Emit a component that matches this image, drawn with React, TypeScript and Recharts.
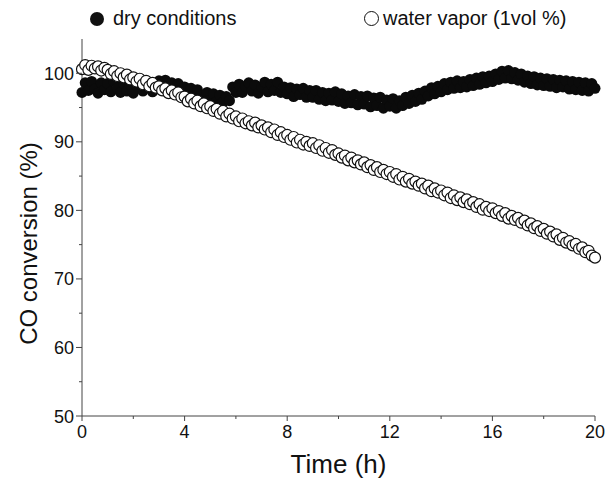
import { ScatterChart, Scatter, XAxis, YAxis } from "recharts";

const TIMES = [
  0, 0.125, 0.25, 0.375, 0.5, 0.625, 0.75, 0.875,
  1, 1.125, 1.25, 1.375, 1.5, 1.625, 1.75, 1.875,
  2, 2.125, 2.25, 2.375, 2.5, 2.625, 2.75, 2.875,
  3, 3.125, 3.25, 3.375, 3.5, 3.625, 3.75, 3.875,
  4, 4.125, 4.25, 4.375, 4.5, 4.625, 4.75, 4.875,
  5, 5.125, 5.25, 5.375, 5.5, 5.625, 5.75, 5.875,
  6, 6.125, 6.25, 6.375, 6.5, 6.625, 6.75, 6.875,
  7, 7.125, 7.25, 7.375, 7.5, 7.625, 7.75, 7.875,
  8, 8.125, 8.25, 8.375, 8.5, 8.625, 8.75, 8.875,
  9, 9.125, 9.25, 9.375, 9.5, 9.625, 9.75, 9.875,
  10, 10.125, 10.25, 10.375, 10.5, 10.625, 10.75, 10.875,
  11, 11.125, 11.25, 11.375, 11.5, 11.625, 11.75, 11.875,
  12, 12.125, 12.25, 12.375, 12.5, 12.625, 12.75, 12.875,
  13, 13.125, 13.25, 13.375, 13.5, 13.625, 13.75, 13.875,
  14, 14.125, 14.25, 14.375, 14.5, 14.625, 14.75, 14.875,
  15, 15.125, 15.25, 15.375, 15.5, 15.625, 15.75, 15.875,
  16, 16.125, 16.25, 16.375, 16.5, 16.625, 16.75, 16.875,
  17, 17.125, 17.25, 17.375, 17.5, 17.625, 17.75, 17.875,
  18, 18.125, 18.25, 18.375, 18.5, 18.625, 18.75, 18.875,
  19, 19.125, 19.25, 19.375, 19.5, 19.625, 19.75, 19.875,
  20,
];

// CO conversion (%) without water
const DRY = [
  97.2, 98.6, 97.5, 98.8, 97.7, 97.1, 98.6, 97.6,
  98.5, 97.3, 98.8, 97.8, 97.2, 98.5, 97.4, 98.3,
  97.1, 98.2, 98.7, 97.4, 97.9, 98.6, 97.3, 98.4,
  98.9, 97.8, 99.0, 98.1, 98.6, 97.6, 98.5, 97.5,
  98.0, 96.9, 97.8, 96.6, 97.6, 96.7, 96.3, 97.2,
  96.1, 97.0, 95.9, 96.8, 95.8, 96.6, 96.0, 98.0,
  97.2, 98.4, 97.2, 98.1, 98.6, 97.4, 98.3, 97.1,
  98.0, 98.7, 97.3, 98.4, 97.5, 98.7, 97.2, 98.0,
  97.0, 97.9, 96.6, 97.7, 96.9, 97.8, 96.5, 97.5,
  96.5, 97.5, 96.2, 97.2, 96.0, 97.1, 96.1, 97.3,
  95.9, 97.0, 95.6, 96.7, 95.7, 96.9, 95.4, 96.6,
  95.5, 96.7, 95.1, 96.4, 95.3, 96.5, 94.9, 96.1,
  95.2, 96.3, 94.9, 96.0, 95.3, 96.5, 95.6, 96.8,
  95.9, 97.1, 96.2, 97.4, 96.7, 97.9, 97.0, 98.1,
  97.3, 98.5, 97.6, 98.7, 97.8, 98.9, 97.9, 98.8,
  98.0, 99.1, 98.2, 99.3, 98.4, 99.5, 98.6, 99.6,
  98.8, 99.9, 99.1, 100.3, 99.3, 100.4, 99.2, 100.1,
  99.0, 99.9, 98.7, 99.6, 98.5, 99.5, 98.3, 99.3,
  98.2, 99.2, 98.1, 99.1, 97.9, 99.0, 98.0, 98.9,
  97.7, 98.8, 97.6, 98.7, 97.5, 98.6, 97.4, 98.5,
  97.8,
];

// CO conversion (%) with 1 vol % water vapor
const WET = [
  100.6, 101.2, 100.5, 101.1, 100.7, 101.0, 100.4, 100.8,
  100.5, 99.9, 100.3, 99.6, 100.0, 99.4, 99.8, 99.1,
  99.4, 98.8, 99.2, 98.4, 98.9, 98.1, 98.6, 97.9,
  98.1, 97.5, 97.8, 97.1, 97.5, 96.9, 97.2, 96.5,
  96.6, 95.9, 96.3, 95.6, 96.0, 95.2, 95.6, 94.9,
  95.2, 94.5, 94.8, 94.1, 94.5, 93.7, 94.1, 93.4,
  93.7, 93.0, 93.4, 92.7, 93.0, 92.4, 92.8, 92.1,
  92.4, 91.8, 92.1, 91.4, 91.8, 91.0, 91.4, 90.7,
  91.0, 90.3, 90.7, 89.9, 90.3, 89.6, 90.0, 89.4,
  89.8, 89.1, 89.5, 88.7, 89.1, 88.4, 88.8, 88.1,
  88.3, 87.7, 88.0, 87.3, 87.7, 87.0, 87.3, 86.7,
  87.0, 86.3, 86.6, 85.9, 86.3, 85.6, 85.9, 85.3,
  85.6, 84.9, 85.3, 84.5, 84.9, 84.2, 84.6, 83.9,
  84.2, 83.6, 83.9, 83.2, 83.6, 82.8, 83.2, 82.6,
  82.9, 82.2, 82.6, 81.8, 82.2, 81.5, 81.9, 81.2,
  81.6, 80.9, 81.2, 80.5, 80.9, 80.1, 80.5, 79.9,
  80.3, 79.6, 79.9, 79.2, 79.6, 78.8, 79.2, 78.6,
  78.9, 78.2, 78.5, 77.8, 78.1, 77.4, 77.7, 77.0,
  77.3, 76.6, 76.9, 76.2, 76.5, 75.7, 76.0, 75.3,
  75.5, 74.9, 75.1, 74.4, 74.6, 73.9, 74.1, 73.4,
  73.1,
];

const X_TICKS = [0, 2, 4, 6, 8, 10, 12, 14, 16, 18, 20];
const Y_TICKS = [50, 55, 60, 65, 70, 75, 80, 85, 90, 95, 100];
const SERIES_NAMES = ["dry conditions", "water vapor (1vol %)"];

const FONT = '"Liberation Sans", Arial, Helvetica, sans-serif';
const AXIS = "#444";
const INK = "#111";

const dryData = TIMES.map((t, i) => ({ t, v: DRY[i] }));
const wetData = TIMES.map((t, i) => ({ t, v: WET[i] }));

function XTick({ x, y, payload }: any) {
  const v = payload.value;
  const major = v % 4 === 0;
  return (
    <g>
      <line x1={x} x2={x} y1={y} y2={y + (major ? 5 : 3)} stroke={AXIS} />
      {major && (
        <text x={x} y={y + 22} textAnchor="middle" fontSize={18} fontFamily={FONT} fill={INK}>
          {v}
        </text>
      )}
    </g>
  );
}

function YTick({ x, y, payload }: any) {
  const v = payload.value;
  const major = v % 10 === 0;
  return (
    <g>
      <line x1={x} x2={x - (major ? 6 : 3)} y1={y} y2={y} stroke={AXIS} />
      {major && (
        <text x={x - 8} y={y + 6.5} textAnchor="end" fontSize={18} fontFamily={FONT} fill={INK}>
          {v}
        </text>
      )}
    </g>
  );
}

function YTitle({ viewBox }: any) {
  const cx = (viewBox?.x ?? 0) + 29;
  const cy = (viewBox?.y ?? 39) + (viewBox?.height ?? 377) / 2 + 16;
  return (
    <text
      x={cx}
      y={cy}
      dy="0.35em"
      transform={`rotate(-90, ${cx}, ${cy})`}
      textAnchor="middle"
      fontSize={24}
      fontFamily={FONT}
      fill={INK}
    >
      CO conversion (%)
    </text>
  );
}

function Legend() {
  const item = { position: "absolute" as const, top: 7, display: "flex", alignItems: "center", fontFamily: FONT, fontSize: 20, color: INK };
  return (
    <>
      <div style={{ ...item, left: 90 }}>
        <span style={{ width: 14, height: 14, borderRadius: "50%", background: INK, marginRight: 9, display: "inline-block" }} />
        {SERIES_NAMES[0]}
      </div>
      <div style={{ ...item, left: 364 }}>
        <span style={{ width: 13, height: 13, borderRadius: "50%", border: `1px solid ${INK}`, background: "#fff", marginRight: 4, display: "inline-block" }} />
        {SERIES_NAMES[1]}
      </div>
    </>
  );
}

export default function App() {
  return (
    <div style={{ position: "absolute", left: 0, top: 0, width: 610, height: 479, background: "#fff" }}>
      <ScatterChart width={610} height={479} margin={{ top: 39, right: 15, bottom: 0, left: 0 }}>
        <XAxis
          dataKey="t"
          type="number"
          domain={[0, 20]}
          ticks={X_TICKS}
          interval={0}
          height={63}
          tickSize={0}
          tickMargin={0}
          tickLine={false}
          axisLine={{ stroke: AXIS }}
          tick={<XTick />}
          label={{ value: "Time (h)", position: "insideBottom", offset: 6, fontSize: 26, fontFamily: FONT, fill: INK }}
        />
        <XAxis xAxisId="top" orientation="top" type="number" domain={[0, 20]} height={0} tick={false} tickLine={false} axisLine={{ stroke: AXIS }} />
        <YAxis
          dataKey="v"
          type="number"
          domain={[50, 105]}
          ticks={Y_TICKS}
          interval={0}
          width={82}
          tickSize={0}
          tickMargin={0}
          tickLine={false}
          axisLine={{ stroke: AXIS }}
          tick={<YTick />}
          label={<YTitle />}
          allowDataOverflow
        />
        <YAxis yAxisId="right" orientation="right" type="number" domain={[50, 105]} width={0} tick={false} tickLine={false} axisLine={{ stroke: AXIS }} />
        <Scatter
          name={SERIES_NAMES[0]}
          data={dryData}
          isAnimationActive={false}
          shape={(p: any) => <circle cx={p.cx} cy={p.cy} r={5.5} fill="#0b0b0b" />}
        />
        <Scatter
          name={SERIES_NAMES[1]}
          data={wetData}
          isAnimationActive={false}
          shape={(p: any) => <circle cx={p.cx} cy={p.cy} r={5.5} fill="#fff" stroke="#111" strokeWidth={1.2} />}
        />
      </ScatterChart>
      <Legend />
    </div>
  );
}
